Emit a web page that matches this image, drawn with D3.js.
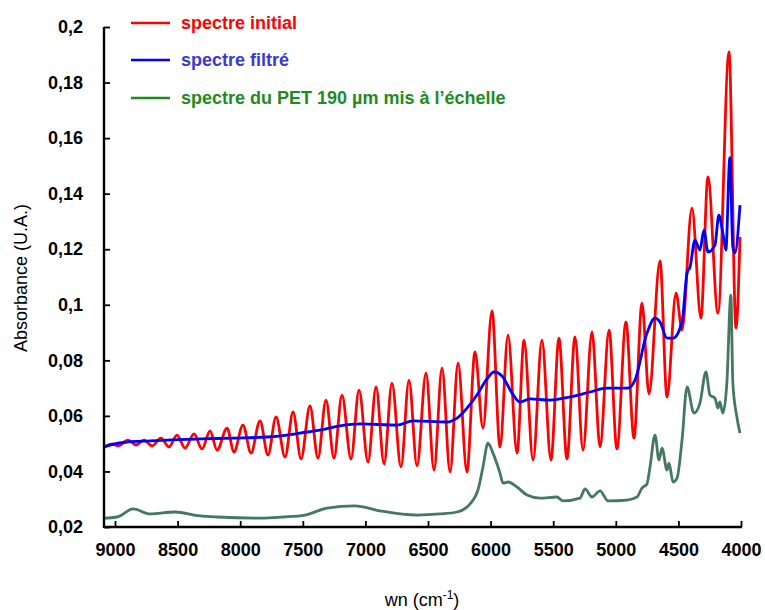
<!DOCTYPE html>
<html><head><meta charset="utf-8">
<script src="https://cdn.jsdelivr.net/npm/d3@7/dist/d3.min.js"></script>
<style>body{margin:0;background:#fff}svg{display:block}</style>
</head><body><svg id="c" width="765" height="610"></svg>
<script>
const xTicks = [9000, 8500, 8000, 7500, 7000, 6500, 6000, 5500, 5000, 4500, 4000];
const yTicks = [0.02, 0.04, 0.06, 0.08, 0.1, 0.12, 0.14, 0.16, 0.18, 0.2];
const seriesNames = ["spectre initial", "spectre filtré", "spectre du PET 190 µm mis à l’échelle"];

const redWn = [9088,9016,8976,8896,8832,8768,8704,8633,8569,8505,8441,8369,8305,8241,8185,8105,8050,7978,7914,7842,7778,7714,7642,7578,7514,7443,7379,7315,7251,7187,7115,7051,6979,6915,6851,6788,6716,6652,6588,6516,6452,6388,6324,6260,6189,6125,6061,5989,5925,5861,5789,5733,5661,5590,5518,5454,5390,5326,5262,5190,5126,5054,4991,4919,4855,4791,4735,4647,4591,4519,4471,4392,4320,4264,4184,4096,4040,4008];
const redAbs = [0.0488,0.0499,0.0492,0.0513,0.0495,0.0513,0.0492,0.0520,0.0488,0.0531,0.0484,0.0535,0.0481,0.0546,0.0477,0.0556,0.0470,0.0567,0.0466,0.0582,0.0459,0.0596,0.0452,0.0614,0.0445,0.0636,0.0448,0.0657,0.0448,0.0675,0.0445,0.0693,0.0434,0.0704,0.0427,0.0718,0.0416,0.0729,0.0420,0.0754,0.0405,0.0772,0.0398,0.0790,0.0398,0.0830,0.0556,0.0978,0.0488,0.0891,0.0466,0.0873,0.0441,0.0873,0.0441,0.0880,0.0445,0.0884,0.0477,0.0902,0.0488,0.0909,0.0481,0.0938,0.0520,0.1006,0.0679,0.1158,0.0668,0.1042,0.0909,0.1348,0.0952,0.1460,0.0970,0.1910,0.0916,0.1244];

const blueWn = [9088,9040,8904,8720,8585,8321,8058,7786,7626,7467,7363,7203,7043,6748,6620,6348,6268,6189,6109,6029,5973,5909,5829,5765,5685,5526,5366,5206,5070,4903,4847,4751,4687,4647,4591,4543,4471,4431,4407,4368,4328,4296,4264,4208,4177,4145,4121,4089,4065,4049,4008];
const blueAbs = [0.0488,0.0495,0.0506,0.0510,0.0513,0.0517,0.0520,0.0524,0.0531,0.0542,0.0549,0.0564,0.0571,0.0567,0.0582,0.0578,0.0592,0.0628,0.0675,0.0733,0.0758,0.0744,0.0682,0.0650,0.0661,0.0657,0.0668,0.0686,0.0700,0.0700,0.0729,0.0898,0.0952,0.0938,0.0880,0.0880,0.0938,0.1114,0.1136,0.1233,0.1197,0.1269,0.1190,0.1215,0.1323,0.1258,0.1197,0.1530,0.1208,0.1186,0.1359];

const greenWn = [9088,8984,8856,8720,8521,8321,8185,7842,7658,7482,7307,7083,6883,6588,6404,6268,6189,6101,6061,6021,5981,5925,5901,5861,5789,5709,5606,5470,5422,5286,5246,5190,5126,5062,4911,4831,4791,4751,4727,4687,4655,4631,4591,4575,4543,4511,4471,4431,4376,4328,4280,4248,4208,4184,4169,4145,4113,4081,4065,4033,4008];
const greenAbs = [0.0232,0.0236,0.0265,0.0247,0.0254,0.0240,0.0236,0.0232,0.0236,0.0243,0.0268,0.0276,0.0258,0.0243,0.0247,0.0254,0.0272,0.0333,0.0416,0.0502,0.0466,0.0394,0.0358,0.0362,0.0344,0.0315,0.0304,0.0308,0.0294,0.0304,0.0337,0.0308,0.0330,0.0294,0.0297,0.0308,0.0340,0.0355,0.0416,0.0531,0.0441,0.0484,0.0405,0.0430,0.0362,0.0376,0.0513,0.0704,0.0610,0.0646,0.0758,0.0675,0.0664,0.0628,0.0650,0.0610,0.0718,0.1035,0.0718,0.0596,0.0538];

const svg = d3.select("#c");
const pL = 104, pR = 741, pT = 27, pB = 527;
const x = d3.scaleLinear().domain([9088, 4000]).range([pL, pR]);
const y = d3.scaleLinear().domain([0.02, 0.2]).range([pB, pT]);
const fmt = v => String(v).replace(".", ",");
const font = "'Liberation Sans', Arial, sans-serif";

function draw(wn, ab, color) {
  const pts = wn.map((w, i) => [w, ab[i]]);
  svg.append("path").datum(pts)
    .attr("fill", "none").attr("stroke", color).attr("stroke-width", 2.8)
    .attr("stroke-linejoin", "round")
    .attr("d", d3.line().x(d => x(d[0])).y(d => y(d[1])).curve(d3.curveMonotoneX));
}
draw(redWn, redAbs, "#ff0000");
draw(blueWn, blueAbs, "#0000ff");
draw(greenWn, greenAbs, "#437a5f");

const xa = svg.append("g").attr("transform", `translate(0,${pB})`)
  .call(d3.axisBottom(x).tickValues(xTicks).tickSizeInner(-6).tickSizeOuter(0).tickPadding(16).tickFormat(d => d));
const ya = svg.append("g").attr("transform", `translate(${pL},0)`)
  .call(d3.axisLeft(y).tickValues(yTicks).tickSizeInner(-6).tickSizeOuter(0).tickPadding(21).tickFormat(fmt));
[xa, ya].forEach(g => {
  g.select(".domain").remove();
  g.selectAll(".tick line").attr("stroke", "#000").attr("stroke-width", 1.8);
  g.selectAll(".tick text").attr("fill", "#000").style("font-family", font)
    .style("font-size", "18px").style("font-weight", "bold");
});
// axis lines
svg.append("line").attr("x1", pL).attr("x2", pR + 1).attr("y1", pB).attr("y2", pB)
  .attr("stroke", "#000").attr("stroke-width", 2.4);
svg.append("line").attr("x1", pL).attr("x2", pL).attr("y1", pB + 1).attr("y2", pT)
  .attr("stroke", "#000").attr("stroke-width", 2.4);

svg.append("text").attr("transform", `translate(27,278) rotate(-90)`)
  .attr("text-anchor", "middle").style("font-family", font).style("font-size", "18px")
  .text("Absorbance (U.A.)");
const xt = svg.append("text").attr("x", 422).attr("y", 606).attr("text-anchor", "middle")
  .style("font-family", font).style("font-size", "18px");
xt.append("tspan").text("wn (cm");
xt.append("tspan").attr("dy", -7).style("font-size", "12px").text("-1");
xt.append("tspan").attr("dy", 7).text(")");

const legColors = ["#ff0000", "#0000ff", "#1f8a1f"];
const legText = ["#ff0000", "#3a3ad0", "#1f8a1f"];
const legY = [23, 60, 98];
seriesNames.forEach((n, i) => {
  svg.append("line").attr("x1", 131).attr("x2", 170).attr("y1", legY[i]).attr("y2", legY[i])
    .attr("stroke", legColors[i]).attr("stroke-width", 2.6);
  svg.append("text").attr("x", 181).attr("y", legY[i] + 6)
    .style("font-family", font).style("font-size", "18px").style("font-weight", "bold")
    .attr("fill", legText[i]).text(n);
});
</script></body></html>
